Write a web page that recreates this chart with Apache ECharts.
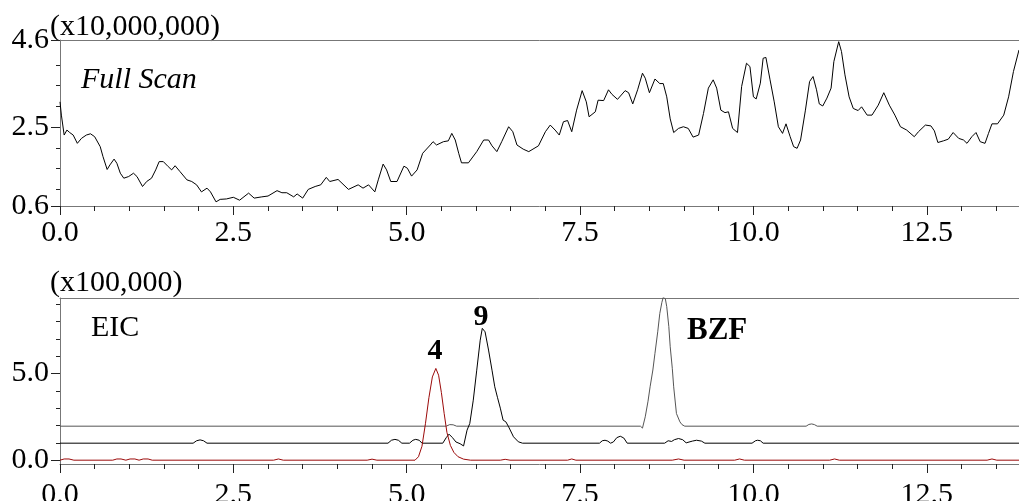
<!DOCTYPE html>
<html>
<head>
<meta charset="utf-8">
<script src="https://cdn.jsdelivr.net/npm/echarts@6/dist/echarts.min.js"></script>
<style>
html,body{margin:0;padding:0;background:#fff;}
#chart{width:1019px;height:501px;}
</style>
</head>
<body>
<div id="chart"></div>
<script>
// ---------------- data ----------------
const xMajorTicks = [0, 2.5, 5.0, 7.5, 10.0, 12.5];
const xMinorTicks = [0.5,1,1.5,2,3,3.5,4,4.5,5.5,6,6.5,7,8,8.5,9,9.5,10.5,11,11.5,12,13,13.5];
const topYLabels = [0.6, 2.5, 4.6];
const topYMinor = [1.0, 1.5, 2.0, 3.0, 3.5, 4.0];
const botYLabels = [0.0, 5.0];
const botYMinor = [1, 2, 3, 4, 6, 7, 8, 9];
const unitLabels = ['(x10,000,000)', '(x100,000)'];
const panelLabels = ['Full Scan', 'EIC'];
const peakLabels = ['4', '9', 'BZF'];

// Full scan TIC (x10,000,000) vs time (min)
const fullScan = [[0,3.11],[0.02,2.79],[0.06,2.31],[0.10,2.43],[0.14,2.37],[0.19,2.31],[0.25,2.11],[0.31,2.23],[0.38,2.31],[0.44,2.34],[0.50,2.27],[0.58,2.03],[0.62,1.79],[0.68,1.48],[0.72,1.59],[0.78,1.73],[0.82,1.63],[0.87,1.39],[0.92,1.27],[0.99,1.31],[1.06,1.39],[1.11,1.31],[1.19,1.07],[1.25,1.19],[1.32,1.27],[1.38,1.47],[1.43,1.67],[1.49,1.67],[1.56,1.55],[1.61,1.47],[1.66,1.57],[1.73,1.43],[1.83,1.23],[1.90,1.19],[1.97,1.11],[2.04,0.94],[2.12,1.03],[2.17,0.94],[2.25,0.70],[2.31,0.76],[2.40,0.77],[2.50,0.81],[2.59,0.74],[2.72,0.91],[2.80,0.79],[2.91,0.82],[3.00,0.84],[3.13,0.97],[3.20,0.92],[3.27,0.92],[3.37,0.82],[3.42,0.89],[3.50,0.79],[3.58,1.00],[3.68,1.07],[3.76,1.11],[3.84,1.29],[3.89,1.19],[4.01,1.24],[4.16,1.00],[4.30,1.11],[4.37,1.03],[4.45,1.11],[4.54,0.94],[4.59,1.23],[4.66,1.61],[4.71,1.47],[4.77,1.19],[4.86,1.19],[4.96,1.56],[5.01,1.51],[5.07,1.32],[5.15,1.47],[5.23,1.87],[5.34,2.07],[5.38,2.15],[5.43,2.07],[5.53,2.15],[5.60,2.17],[5.65,2.35],[5.70,2.19],[5.75,1.87],[5.79,1.64],[5.89,1.64],[6.01,1.91],[6.11,2.19],[6.18,2.19],[6.23,2.05],[6.30,1.91],[6.37,2.15],[6.47,2.51],[6.53,2.39],[6.59,2.07],[6.68,1.97],[6.76,1.91],[6.90,2.05],[7.00,2.39],[7.07,2.55],[7.14,2.43],[7.20,2.31],[7.26,2.63],[7.32,2.66],[7.38,2.39],[7.45,2.91],[7.53,3.38],[7.59,3.11],[7.63,2.75],[7.72,2.87],[7.76,3.15],[7.84,3.14],[7.91,3.40],[7.96,3.29],[8.04,3.17],[8.15,3.38],[8.20,3.33],[8.26,3.06],[8.33,3.40],[8.40,3.80],[8.44,3.68],[8.50,3.33],[8.58,3.66],[8.65,3.55],[8.70,3.55],[8.75,3.23],[8.80,2.70],[8.85,2.37],[8.92,2.47],[8.99,2.51],[9.06,2.47],[9.13,2.26],[9.21,2.31],[9.28,2.83],[9.35,3.44],[9.42,3.64],[9.47,3.44],[9.53,2.91],[9.59,2.85],[9.64,2.87],[9.70,2.47],[9.77,2.37],[9.83,3.48],[9.90,4.04],[9.95,3.96],[10.00,3.23],[10.04,3.18],[10.10,3.56],[10.14,4.16],[10.18,4.18],[10.24,3.64],[10.30,3.11],[10.36,2.51],[10.42,2.35],[10.47,2.58],[10.53,2.27],[10.58,2.03],[10.63,1.99],[10.68,2.19],[10.75,2.91],[10.81,3.60],[10.86,3.72],[10.91,3.40],[10.95,3.06],[11.00,3.01],[11.06,3.20],[11.12,3.44],[11.16,4.08],[11.23,4.56],[11.27,4.32],[11.32,3.76],[11.38,3.23],[11.44,2.95],[11.51,2.90],[11.56,2.99],[11.64,2.79],[11.71,2.79],[11.80,3.03],[11.88,3.33],[11.96,3.03],[12.04,2.79],[12.12,2.51],[12.21,2.43],[12.32,2.27],[12.38,2.39],[12.48,2.55],[12.56,2.53],[12.61,2.41],[12.66,2.13],[12.74,2.17],[12.81,2.21],[12.88,2.37],[12.96,2.23],[13.03,2.19],[13.08,2.11],[13.15,2.27],[13.21,2.37],[13.27,2.15],[13.34,2.11],[13.39,2.35],[13.44,2.58],[13.52,2.58],[13.61,2.79],[13.68,3.23],[13.75,3.84],[13.83,4.36]];

// EIC traces (x100,000), offset baselines as drawn
const eicBZF = [[0,1.96],[5.57,1.96],[5.62,2.05],[5.67,2.04],[5.72,1.96],[8.37,1.96],[8.40,1.85],[8.44,2.50],[8.48,3.40],[8.51,4.23],[8.55,5.20],[8.58,6.16],[8.62,7.40],[8.65,8.46],[8.68,9.10],[8.70,9.40],[8.73,9.30],[8.75,8.85],[8.78,7.70],[8.80,6.54],[8.83,5.30],[8.85,4.23],[8.89,2.69],[8.94,2.21],[8.97,2.05],[9.01,1.96],[10.76,1.96],[10.80,2.06],[10.84,2.09],[10.88,2.05],[10.92,1.96],[13.83,1.96]];
const eic9 = [[0,0.98],[1.92,0.98],[1.97,1.12],[2.02,1.17],[2.07,1.12],[2.12,0.98],[4.73,0.98],[4.78,1.15],[4.83,1.20],[4.88,1.15],[4.93,0.98],[5.04,0.98],[5.09,1.15],[5.13,1.20],[5.18,1.15],[5.22,0.98],[5.52,0.98],[5.57,1.30],[5.61,1.50],[5.66,1.30],[5.71,1.05],[5.77,0.95],[5.82,0.82],[5.87,1.73],[5.91,2.12],[5.96,3.46],[6.01,5.19],[6.06,6.92],[6.09,7.60],[6.13,7.40],[6.18,6.35],[6.23,5.19],[6.27,4.23],[6.31,3.60],[6.35,3.00],[6.39,2.31],[6.43,2.21],[6.47,1.92],[6.54,1.35],[6.61,1.06],[6.67,0.98],[7.78,0.98],[7.82,1.12],[7.86,1.15],[7.90,1.10],[7.94,0.98],[7.98,1.05],[8.03,1.30],[8.08,1.38],[8.13,1.28],[8.18,0.98],[8.72,0.98],[8.77,1.12],[8.82,1.08],[8.86,1.18],[8.92,1.25],[8.98,1.18],[9.03,1.00],[9.12,1.10],[9.18,1.15],[9.25,1.10],[9.30,0.98],[9.98,0.98],[10.03,1.12],[10.06,1.15],[10.10,1.12],[10.14,0.98],[13.83,0.98]];
const eic4 = [[0,0],[0.06,0.07],[0.13,0.07],[0.2,0],[0.76,0],[0.82,0.07],[0.88,0.07],[0.95,0],[1.01,0.07],[1.08,0.07],[1.14,0],[1.2,0.07],[1.27,0.07],[1.33,0],[3.08,0],[3.15,0.07],[3.22,0],[4.43,0],[4.5,0.06],[4.57,0],[5.12,0],[5.17,0.2],[5.22,0.8],[5.27,2.1],[5.32,3.6],[5.37,4.8],[5.42,5.29],[5.46,4.9],[5.50,3.9],[5.54,2.7],[5.58,1.6],[5.63,0.85],[5.68,0.45],[5.74,0.2],[5.82,0.06],[5.92,0],[6.35,0],[6.42,0.05],[6.49,0],[7.32,0],[7.38,0.07],[7.44,0],[8.83,0],[8.92,0.07],[9.0,0],[9.73,0],[9.8,0.07],[9.87,0],[11.1,0],[11.17,0.07],[11.24,0],[13.37,0],[13.44,0.07],[13.51,0],[13.83,0]];

// ---------------- chart ----------------
const FONT = "'Liberation Serif','Times New Roman',serif";
const FS = 30;
const XMAX = 13.83;
const AXIS_COLOR = '#777';
const fmt1 = v => Number(v).toFixed(1);

function xAxes(gi, labelMargin) {
  return [
    { gridIndex: gi, type: 'value', min: 0, max: XMAX, position: 'bottom',
      axisLine: { show: true, onZero: false, lineStyle: { color: AXIS_COLOR, width: 1 } },
      axisTick: { show: true, length: 9, customValues: xMajorTicks, lineStyle: { color: '#222' } },
      axisLabel: { show: true, customValues: xMajorTicks, formatter: fmt1, fontFamily: FONT, fontSize: FS, color: '#000', margin: labelMargin },
      splitLine: { show: false } },
    { gridIndex: gi, type: 'value', min: 0, max: XMAX, position: 'bottom',
      axisLine: { show: false, onZero: false },
      axisTick: { show: true, length: 5, customValues: xMinorTicks, lineStyle: { color: '#222' } },
      axisLabel: { show: false }, splitLine: { show: false } },
    { gridIndex: gi, type: 'value', min: 0, max: XMAX, position: 'top',
      axisLine: { show: true, onZero: false, lineStyle: { color: AXIS_COLOR, width: 1 } },
      axisTick: { show: false }, axisLabel: { show: false }, splitLine: { show: false } }
  ];
}
function yAxes(gi, min, max, labels, minor) {
  return [
    { gridIndex: gi, type: 'value', min: min, max: max, position: 'left',
      axisLine: { show: true, onZero: false, lineStyle: { color: AXIS_COLOR, width: 1 } },
      axisTick: { show: true, length: 9, customValues: labels, lineStyle: { color: '#222' } },
      axisLabel: { show: true, customValues: labels, formatter: fmt1, fontFamily: FONT, fontSize: FS, color: '#000', margin: 11 },
      splitLine: { show: false } },
    { gridIndex: gi, type: 'value', min: min, max: max, position: 'left',
      axisLine: { show: false, onZero: false },
      axisTick: { show: true, length: 4, customValues: minor, lineStyle: { color: '#222' } },
      axisLabel: { show: false }, splitLine: { show: false } }
  ];
}
function line(data, xi, yi, color, z) {
  return { type: 'line', data: data, xAxisIndex: xi, yAxisIndex: yi, showSymbol: false, symbol: 'none',
    lineStyle: { color: color, width: 1 }, itemStyle: { color: color }, animation: false, clip: true, z: z || 2 };
}

const chart = echarts.init(document.getElementById('chart'), null, { renderer: 'canvas' });
chart.setOption({
  animation: false,
  backgroundColor: '#fff',
  grid: [
    { left: 60, top: 40, right: 0, height: 166, containLabel: false, outerBoundsMode: 'none' },
    { left: 60, top: 298, right: 0, height: 166, containLabel: false, outerBoundsMode: 'none' }
  ],
  xAxis: [].concat(xAxes(0, 12), xAxes(1, 16)),
  yAxis: [].concat(yAxes(0, 0.6, 4.6, topYLabels, topYMinor), yAxes(1, -0.22, 9.35, botYLabels, botYMinor)),
  series: [
    line(fullScan, 0, 0, '#000'),
    line(eicBZF, 3, 2, '#555'),
    line(eic9, 3, 2, '#000'),
    line(eic4, 3, 2, '#9b0a0a', 3)
  ],
  graphic: [
    { type: 'text', x: 50, y: 27, style: { text: unitLabels[0], font: FS + 'px ' + FONT, fill: '#000', verticalAlign: 'middle', align: 'left' } },
    { type: 'text', x: 50, y: 283, style: { text: unitLabels[1], font: FS + 'px ' + FONT, fill: '#000', verticalAlign: 'middle', align: 'left' } },
    { type: 'text', x: 81, y: 80, style: { text: panelLabels[0], font: 'italic ' + FS + 'px ' + FONT, fill: '#000', verticalAlign: 'middle', align: 'left' } },
    { type: 'text', x: 91, y: 328, style: { text: panelLabels[1], font: FS + 'px ' + FONT, fill: '#000', verticalAlign: 'middle', align: 'left' } },
    { type: 'text', x: 435, y: 351, style: { text: peakLabels[0], font: 'bold ' + FS + 'px ' + FONT, fill: '#000', verticalAlign: 'middle', align: 'center' } },
    { type: 'text', x: 481, y: 317, style: { text: peakLabels[1], font: 'bold ' + FS + 'px ' + FONT, fill: '#000', verticalAlign: 'middle', align: 'center' } },
    { type: 'text', x: 687, y: 331, style: { text: peakLabels[2], font: 'bold 31px ' + FONT, fill: '#000', verticalAlign: 'middle', align: 'left' } }
  ]
});
</script>
</body>
</html>
